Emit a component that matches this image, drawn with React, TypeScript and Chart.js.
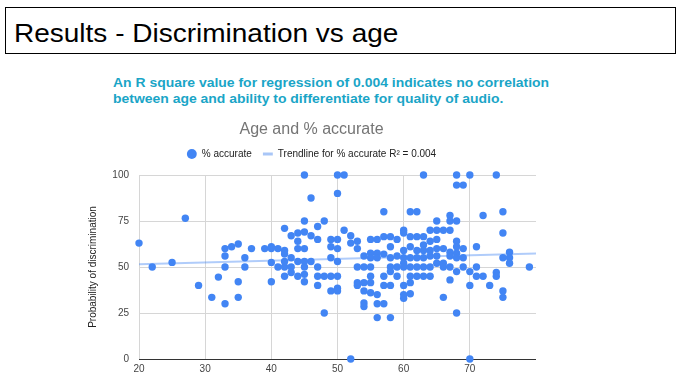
import { useEffect, useRef } from "react";
import { Chart, registerables } from "chart.js";

Chart.register(...registerables);

const FONT = 'Arial, "Liberation Sans", Helvetica, sans-serif';

const headerTitle = "Results - Discrimination vs age";
const noteLines = [
  "An R square value for regression of 0.004 indicates no correlation",
  "between age and ability to differentiate for quality of audio.",
];
const chartTitle = "Age and % accurate";
const seriesLabel = "% accurate";
const trendLabel = "Trendline for % accurate R\u00B2 = 0.004";
const yAxisTitle = "Probability of discrimination";

const ages = [
  20, 22, 25, 27, 29, 31, 32, 33, 33, 33, 33, 34, 35, 35, 35, 36, 36, 37, 39,
  40, 40, 40, 40, 41, 41, 42, 42, 42, 42, 42, 42, 43, 43, 43, 43, 44, 44, 44, 44, 44,
  45, 45, 45, 45, 45, 45, 45, 45, 46, 46, 46, 47, 47, 47, 47, 47, 48, 48, 48, 49, 49, 49, 49, 49,
  50, 50, 50, 50, 50, 50, 50, 50, 51, 51, 52, 52, 52, 53, 53, 53, 53, 53, 54, 54, 54, 54, 54, 54,
  55, 55, 55, 55, 55, 55, 55, 56, 56, 56, 56, 56, 56, 57, 57, 57, 57, 57, 57, 58, 58, 58, 58, 58, 58, 58,
  59, 59, 59, 59, 60, 60, 60, 60, 60, 60, 60, 60, 60, 61, 61, 61, 61, 61, 61, 61, 61, 62, 62, 62, 62, 62, 62,
  63, 63, 63, 63, 63, 63, 63, 64, 64, 64, 64, 64, 64, 65, 65, 65, 65, 65, 65, 66, 66, 66, 66, 66,
  67, 67, 67, 67, 67, 67, 67, 68, 68, 68, 68, 68, 68, 68, 68, 68, 69, 69, 69, 69, 70, 70, 70, 70,
  71, 71, 71, 72, 72, 73, 74, 74, 74, 75, 75, 75, 75, 75, 76, 76, 76, 79,
];

const accuracy = [
  63, 50, 52.5, 76.5, 40, 33.5, 44.5, 30, 50, 56, 60, 61, 62.5, 42, 33.5, 55, 50, 60, 60,
  61, 60, 52.5, 42, 60, 50, 71, 59, 57, 53, 50, 45, 67, 55, 50, 47, 68.5, 64, 60, 53, 45,
  100, 75, 69, 60, 53, 50, 46, 42, 87.5, 67, 53, 72, 65, 50, 45, 40, 75, 45, 25, 65, 61, 55, 45, 37,
  100, 90, 65, 60, 53, 45, 38.5, 37, 100, 70, 67, 63, 0, 64, 60, 50, 41.5, 40, 56, 50, 41.5, 37, 30.5, 28.5,
  65, 57.5, 55, 50, 45, 41.5, 36, 65, 57.5, 55, 35, 30, 22.5, 80, 66.5, 57, 45, 40, 30, 66.5, 61, 55, 50, 47.5, 40, 22.5,
  65, 56, 50, 45, 70, 68.5, 59, 55, 52, 50, 40, 35, 33, 80, 66.5, 61, 55, 50, 45, 41.5, 35.5, 80, 66.5, 59, 55, 50, 45,
  100, 66.5, 62, 59, 55, 50, 45, 70, 64, 59, 56, 50, 45, 75, 70, 65, 60, 56, 52, 70, 60, 52, 50, 33.5,
  78, 75, 70, 58, 56, 50, 43, 100, 94.5, 75, 64, 61, 57.5, 55, 47.5, 25, 94.5, 60, 55, 50, 100, 47.5, 40, 0,
  61, 50, 45, 78, 45, 40, 100, 47, 45, 80, 68.5, 55, 37, 33.5, 58, 55, 52, 50,
];

const trendAges = [20, 80];
const trendValues = [51.5, 57.3];

const xTickValues = [20, 30, 40, 50, 60, 70];
const yTickValues = [0, 25, 50, 75, 100];

function ScatterChart() {
  const ref = useRef<HTMLCanvasElement | null>(null);

  useEffect(() => {
    if (!ref.current) return;
    const pointColor = "#4285f4";
    const trendColor = "rgba(66,133,244,0.42)";
    const chart = new Chart(ref.current, {
      type: "scatter",
      data: {
        datasets: [
          {
            label: seriesLabel,
            data: ages.map((a, i) => ({ x: a, y: accuracy[i] })),
            backgroundColor: pointColor,
            borderColor: pointColor,
            borderWidth: 0,
            pointRadius: 3.7,
            pointHoverRadius: 3.7,
            pointStyle: "circle",
            order: 0,
            clip: false,
          } as any,
          {
            type: "line",
            label: trendLabel,
            data: trendAges.map((a, i) => ({ x: a, y: trendValues[i] })),
            borderColor: trendColor,
            backgroundColor: trendColor,
            borderWidth: 2,
            pointRadius: 0,
            pointHoverRadius: 0,
            pointStyle: "line",
            showLine: true,
            fill: false,
            order: 1,
          } as any,
        ],
      },
      options: {
        animation: false,
        responsive: false,
        maintainAspectRatio: false,
        events: [],
        layout: { padding: { left: 87, right: 144, top: 0, bottom: 0 } },
        plugins: {
          title: {
            display: true,
            text: chartTitle,
            color: "#757575",
            font: { family: FONT, size: 16, weight: "normal", lineHeight: 1 },
            padding: { top: 22, bottom: 0 },
          },
          subtitle: {
            display: true,
            text: "",
            weight: 500,
            font: { family: FONT, size: 6, lineHeight: 1 },
            padding: 0,
          } as any,
          legend: {
            display: true,
            position: "top",
            labels: {
              usePointStyle: true,
              boxHeight: 7,
              padding: 11,
              color: "#222",
              font: { family: FONT, size: 10 },
              generateLabels: (c: any) => {
                const items = (Chart.defaults.plugins.legend.labels as any).generateLabels(c);
                items.forEach((it: any, i: number) => {
                  if (i === 0) {
                    it.fillStyle = pointColor;
                    it.strokeStyle = pointColor;
                    it.lineWidth = 0;
                    it.pointStyle = "circle";
                  } else {
                    it.strokeStyle = "#a9c6f7";
                    it.fillStyle = "#a9c6f7";
                    it.lineWidth = 3;
                    it.pointStyle = "line";
                  }
                });
                return items;
              },
            },
          },
          tooltip: { enabled: false },
        },
        scales: {
          x: {
            type: "linear",
            min: 20,
            max: 80,
            afterBuildTicks: (axis: any) => {
              axis.ticks = xTickValues.map((v) => ({ value: v }));
            },
            afterFit: (axis: any) => {
              axis.height = 28;
            },
            ticks: {
              color: "#444",
              padding: 4,
              font: { family: FONT, size: 10 },
              callback: (v: any) => String(v),
            },
            grid: { color: "#d6d6d6", drawTicks: false, lineWidth: 1 },
            border: { display: false },
          },
          y: {
            type: "linear",
            min: 0,
            max: 100,
            afterBuildTicks: (axis: any) => {
              axis.ticks = yTickValues.map((v) => ({ value: v }));
            },
            afterFit: (axis: any) => {
              axis.width = 52;
            },
            ticks: {
              color: "#444",
              padding: 10,
              font: { family: FONT, size: 10 },
              callback: (v: any) => String(v),
            },
            grid: {
              color: (ctx: any) => (ctx.tick && ctx.tick.value === 0 ? "#333" : "#d6d6d6"),
              drawTicks: false,
              lineWidth: 1,
            },
            border: { display: false },
            title: {
              display: true,
              text: yAxisTitle,
              color: "#222",
              font: { family: FONT, size: 10 },
              padding: 0,
            },
          },
        },
      } as any,
    });
    return () => chart.destroy();
  }, []);

  return (
    <canvas
      ref={ref}
      width={680}
      height={287}
      style={{ position: "absolute", left: 0, top: 100, width: 680, height: 287 }}
    />
  );
}

export default function App() {
  return (
    <div
      style={{
        position: "absolute",
        left: 0,
        top: 0,
        width: 680,
        height: 387,
        background: "#fff",
        overflow: "hidden",
        fontFamily: FONT,
      }}
    >
      <div
        style={{
          position: "absolute",
          left: 5,
          top: 7,
          width: 671,
          height: 47,
          boxSizing: "border-box",
          border: "1.5px solid #000",
        }}
      />
      <div
        style={{
          position: "absolute",
          left: 14,
          top: 20.5,
          fontSize: 25,
          lineHeight: "25px",
          color: "#000",
          whiteSpace: "nowrap",
          transform: "scaleX(1.12)",
          transformOrigin: "left top",
        }}
      >
        {headerTitle}
      </div>
      <div
        style={{
          position: "absolute",
          left: 112.5,
          top: 75,
          fontSize: 12.5,
          lineHeight: "16px",
          fontWeight: "bold",
          color: "#1aa5c7",
          whiteSpace: "nowrap",
          transform: "scaleX(1.115)",
          transformOrigin: "left top",
        }}
      >
        {noteLines[0]}
        <br />
        {noteLines[1]}
      </div>
      <ScatterChart />
    </div>
  );
}
